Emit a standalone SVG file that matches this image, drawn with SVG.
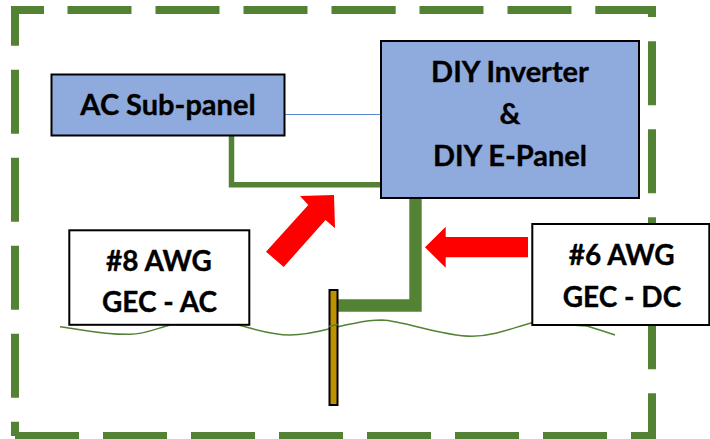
<svg xmlns="http://www.w3.org/2000/svg" width="710" height="439" viewBox="0 0 710 439">
<style>
.frame{fill:none;stroke:#548235;stroke-width:8;stroke-linejoin:miter}
.wire{fill:none;stroke:#548235}
.box{stroke:#000;stroke-width:2}
.blue{fill:#8FAADC}
.white{fill:#fff}
.arrow{fill:#f00}
text{font-family:"Lato","Open Sans",sans-serif;font-weight:700;font-size:29px;fill:#000;stroke:#000;stroke-width:.35px;text-anchor:middle}
.small{font-size:28px}
</style>
<rect width="710" height="439" fill="#fff"/>
<g id="boundary">
<path class="frame" d="M15 45.7V10H44M67.5 10H131.5M155.5 10H219.5M243.5 10H307.5M331.5 10H395.7M419.5 10H483.5M507.5 10H571.5M595.3 10H652V17M652 41.3V105.3M652 129.3V193.3M652 217.3V281.3M652 305.3V369.3M652 393.3V436H631M607 436H543M519 436H455M431 436H367M343 436H279M255 436H191M167 436H103M79 436H15M15 436V421.7M15 397.7V333.7M15 309.7V245.7M15 221.7V157.7M15 133.7V69.7"/>
</g>
<g id="ground-line">
<path class="wire" stroke-width="1.5" d="M60 326.7C85 330 105 335 130 334.3C145 334 155 329 170 325L238 325C255 329 270 335 290 335C315 335 335 326 355 323.3C365 321 375 320 382 320C405 321 440 336 472 336.3C495 336 515 327 532 322.7L587 326C597 329 606 332 615 335"/>
</g>
<g id="connectors">
<path style="fill:none;stroke:#5B86D0;stroke-width:1" d="M285 114.5H380"/>
<path class="wire" stroke-width="5.5" d="M231.5 133V184.7H382"/>
<path class="wire" stroke-width="12.4" d="M415.5 198V305.5H336.7"/>
</g>
<g id="ground-rod">
<rect x="329.5" y="290" width="8" height="115" fill="#BF9000" stroke="#000" stroke-width="2"/>
</g>
<path class="wire" stroke-width="1.5" d="M329 326.5C332 325.8 335 325 338 324.5"/>
<g id="ac-subpanel">
<rect class="box blue" x="51.5" y="74.5" width="233" height="61"/>
<text x="168" y="115">AC Sub-panel</text>
</g>
<g id="diy-inverter">
<rect class="box blue" x="381" y="41" width="258" height="157"/>
<text x="510" y="81.7">DIY Inverter</text>
<text x="510" y="124">&amp;</text>
<text x="510" y="165.7">DIY E-Panel</text>
</g>
<g id="awg8">
<rect class="box white" x="69.3" y="230.3" width="180" height="94.5"/>
<text class="small" x="159" y="270.7">#8 AWG</text>
<text class="small" x="159.5" y="312.3">GEC - AC</text>
</g>
<g id="awg6">
<rect class="box white" x="532.3" y="224" width="177" height="101"/>
<text class="small" x="621.7" y="264.7">#6 AWG</text>
<text class="small" x="622" y="306.7">GEC - DC</text>
</g>
<g id="arrows">
<polygon class="arrow" points="334,195 335,228.3 325.5,220 283.7,267 266,251.7 308.3,205 300,196"/>
<polygon class="arrow" points="425,247.3 445.7,226.7 445.7,237 528,237 528,257.3 445.7,257.3 445.7,267.7"/>
</g>
</svg>
